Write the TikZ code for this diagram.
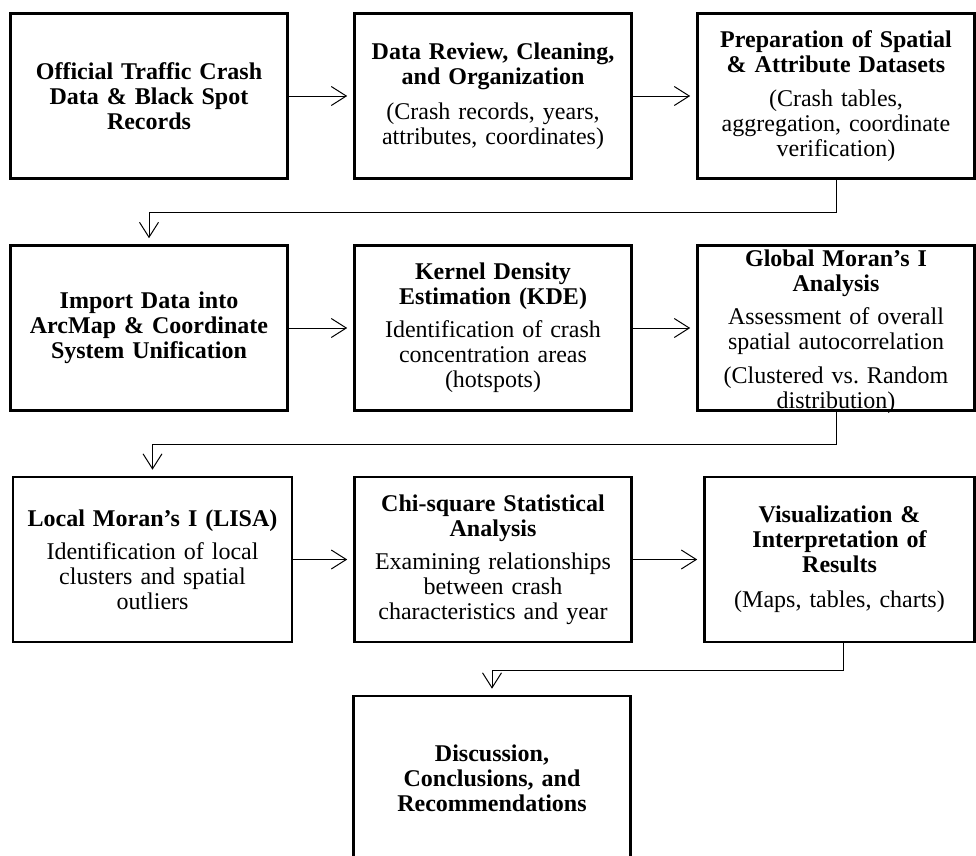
\documentclass[tikz,border=0pt]{standalone}
\usepackage{fontspec}
\setmainfont{Liberation Serif}
\usetikzlibrary{arrows.meta}
\frenchspacing
\tikzset{
  box/.style={draw, line width=2.6pt, minimum width=277pt, minimum height=165pt,
    inner sep=0pt, text width=262pt, align=center,
    font=\fontsize{24}{25}\selectfont},
  conn/.style={line width=1pt},
  arr/.style={conn, -{Straight Barb[length=15pt,width=19pt]}, shorten >=6pt},
}
\begin{document}
\begin{tikzpicture}[x=1pt,y=-1pt]
\useasboundingbox (0,0) rectangle (976,855);
% row 1
\node[box] (A) at (149,96) {\textbf{Official Traffic Crash\\Data \& Black Spot\\Records}};
\node[box] (B) at (493,96) {\textbf{Data Review, Cleaning,\\and Organization}\\[10pt](Crash records, years,\\attributes, coordinates)};
\node[box] (C) at (836,96) {\textbf{Preparation of Spatial\\\& Attribute Datasets}\\[9pt](Crash tables,\\aggregation, coordinate\\verification)};
% row 2
\node[box] (D) at (149,328) {\textbf{Import Data into\\ArcMap \& Coordinate\\System Unification}};
\node[box] (E) at (493,328) {\textbf{Kernel Density\\Estimation (KDE)}\\[8pt]Identification of crash\\concentration areas\\(hotspots)};
\node[box] (F) at (836,328) {\textbf{Global Moran’s I\\Analysis}\\[8pt]Assessment of overall\\spatial autocorrelation\\[9pt](Clustered vs. Random\\distribution)\par\vspace{-8pt}\nointerlineskip\hbox{}};
% row 3
\node[box, minimum width=279pt] (G) at (152.5,559.5) {\textbf{Local Moran’s I (LISA)}\\[8pt]Identification of local\\clusters and spatial\\outliers};
\node[box] (H) at (493,559.5) {\textbf{Chi-square Statistical\\Analysis}\\[8pt]Examining relationships\\between crash\\characteristics and year};
\node[box, minimum width=270pt] (I) at (839.5,559.5) {\textbf{Visualization \&\\Interpretation of\\Results}\\[10pt](Maps, tables, charts)};
% row 4
\node[box, minimum height=164pt] (J) at (492,778) {\textbf{Discussion,\\Conclusions, and\\Recommendations}};
% connectors
\draw[arr] (A.east) -- (B.west);
\draw[arr] (B.east) -- (C.west);
\draw[arr] (C.south) |- (149,212) -- (D.north);
\draw[arr] (D.east) -- (E.west);
\draw[arr] (E.east) -- (F.west);
\draw[arr] (F.south) |- (152.5,444) -- (G.north);
\draw[arr] (G.east) -- (H.west);
\draw[arr] (H.east) -- (I.west);
\draw[arr] ([xshift=4pt]I.south) |- (492,670) -- (J.north);
\end{tikzpicture}
\end{document}
